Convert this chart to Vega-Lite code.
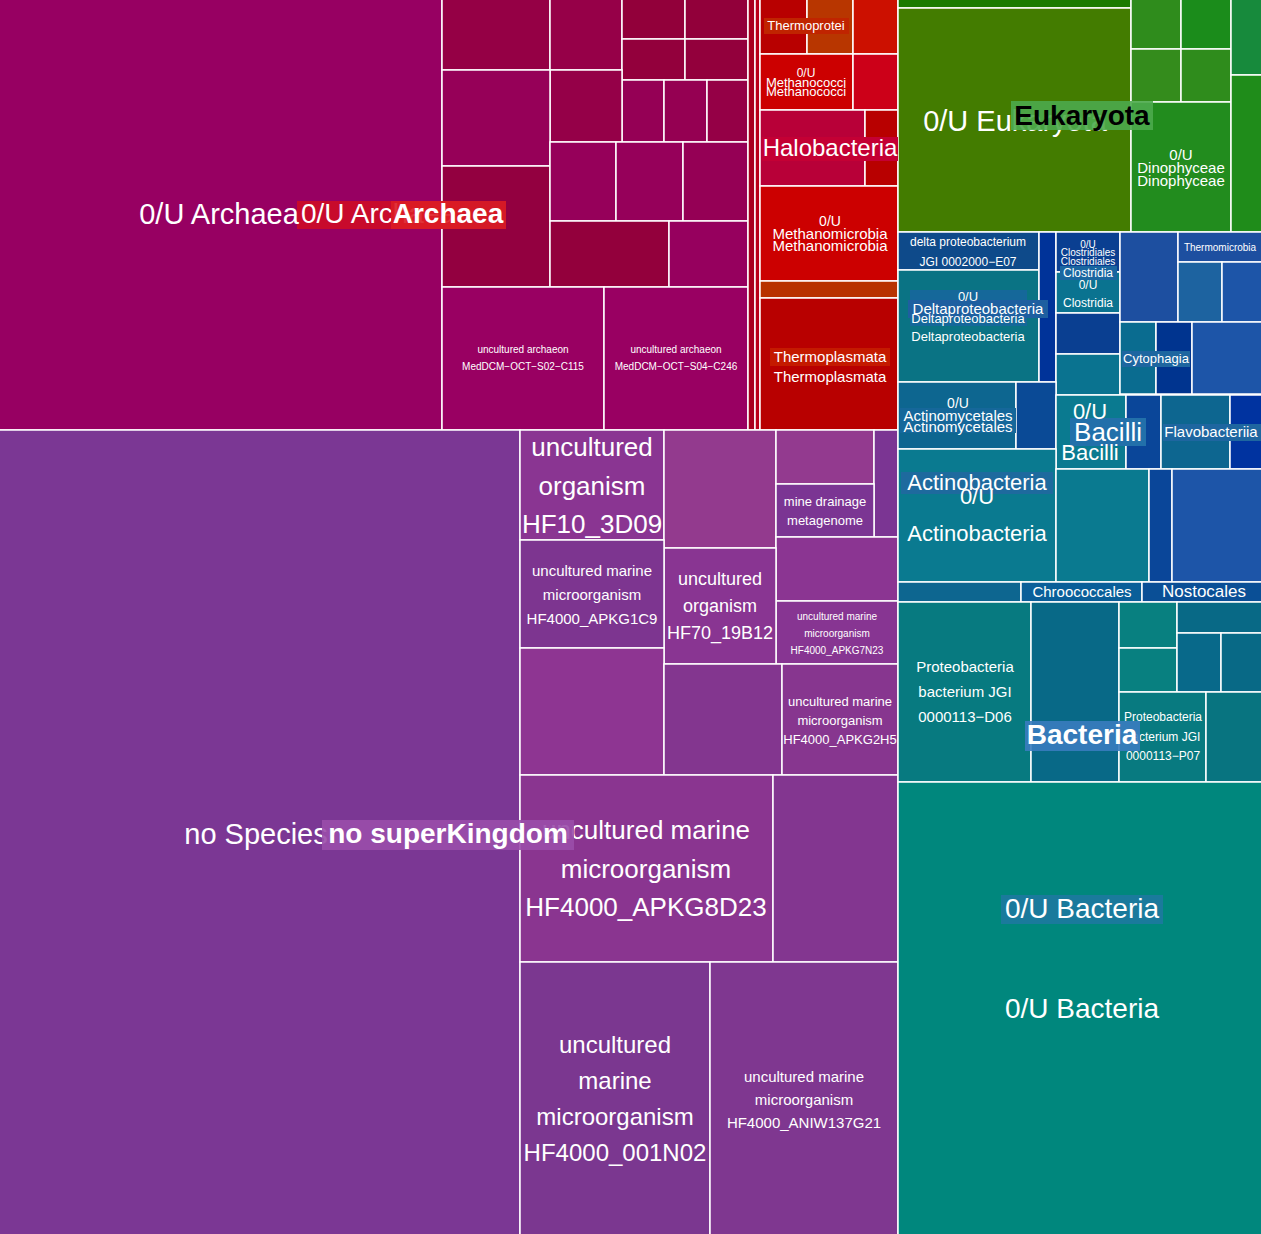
{
  "$schema": "https://vega.github.io/schema/vega-lite/v6.json",
  "width": 1261,
  "height": 1234,
  "autosize": {"type": "fit", "contains": "padding"},
  "padding": 0,
  "background": "#ffffff",
  "config": {"view": {"stroke": null}, "text": {"font": "Liberation Sans", "align": "center", "baseline": "middle", "color": "#ffffff"}},
  "encoding": {
    "x": {"field": "x", "type": "quantitative", "scale": {"domain": [0, 1261], "nice": false, "zero": false}, "axis": null},
    "y": {"field": "y", "type": "quantitative", "scale": {"domain": [0, 1234], "nice": false, "zero": false, "reverse": true}, "axis": null}
  },
  "datasets": {
    "rects": [
      {"id": "0/U Archaea", "x": -2, "x1": 442, "y": -2, "y1": 430},
      {"id": "Archaea a1", "x": 442, "x1": 550, "y": -2, "y1": 70},
      {"id": "Archaea a2", "x": 550, "x1": 622, "y": -2, "y1": 70},
      {"id": "Archaea a3", "x": 622, "x1": 685, "y": -2, "y1": 39},
      {"id": "Archaea a4", "x": 685, "x1": 748, "y": -2, "y1": 39},
      {"id": "Archaea a5", "x": 622, "x1": 685, "y": 39, "y1": 80},
      {"id": "Archaea a6", "x": 685, "x1": 748, "y": 39, "y1": 80},
      {"id": "Archaea a7", "x": 622, "x1": 664, "y": 80, "y1": 142},
      {"id": "Archaea a8", "x": 664, "x1": 707, "y": 80, "y1": 142},
      {"id": "Archaea a9", "x": 707, "x1": 748, "y": 80, "y1": 142},
      {"id": "Archaea a10", "x": 550, "x1": 622, "y": 70, "y1": 142},
      {"id": "Archaea a11", "x": 442, "x1": 550, "y": 70, "y1": 166},
      {"id": "Archaea a12", "x": 442, "x1": 550, "y": 166, "y1": 287},
      {"id": "Archaea a13", "x": 550, "x1": 616, "y": 142, "y1": 221},
      {"id": "Archaea a14", "x": 616, "x1": 683, "y": 142, "y1": 221},
      {"id": "Archaea a15", "x": 683, "x1": 748, "y": 142, "y1": 221},
      {"id": "Archaea a16", "x": 550, "x1": 669, "y": 221, "y1": 287},
      {"id": "Archaea a17", "x": 669, "x1": 748, "y": 221, "y1": 287},
      {"id": "MedDCM-OCT-S02-C115", "x": 442, "x1": 604, "y": 287, "y1": 430},
      {"id": "MedDCM-OCT-S04-C246", "x": 604, "x1": 748, "y": 287, "y1": 430},
      {"id": "Archaea s1", "x": 748, "x1": 755, "y": -2, "y1": 430},
      {"id": "Archaea s2", "x": 755, "x1": 760, "y": -2, "y1": 430},
      {"id": "Thermoprotei 1", "x": 760, "x1": 807, "y": -2, "y1": 54},
      {"id": "Thermoprotei 2", "x": 807, "x1": 853, "y": -2, "y1": 54},
      {"id": "Thermoprotei 3", "x": 853, "x1": 898, "y": -2, "y1": 54},
      {"id": "Methanococci 1", "x": 760, "x1": 853, "y": 54, "y1": 110},
      {"id": "Methanococci 2", "x": 853, "x1": 898, "y": 54, "y1": 110},
      {"id": "Halobacteria 1", "x": 760, "x1": 865, "y": 110, "y1": 186},
      {"id": "Halobacteria 2", "x": 865, "x1": 898, "y": 110, "y1": 186},
      {"id": "Methanomicrobia", "x": 760, "x1": 898, "y": 186, "y1": 281},
      {"id": "Archaea s3", "x": 760, "x1": 898, "y": 281, "y1": 298},
      {"id": "Thermoplasmata", "x": 760, "x1": 898, "y": 298, "y1": 430},
      {"id": "no Species", "x": -2, "x1": 520, "y": 430, "y1": 1236},
      {"id": "HF10_3D09", "x": 520, "x1": 664, "y": 430, "y1": 540},
      {"id": "nsk n1", "x": 664, "x1": 776, "y": 430, "y1": 548},
      {"id": "nsk n2", "x": 776, "x1": 874, "y": 430, "y1": 484},
      {"id": "nsk n3", "x": 874, "x1": 898, "y": 430, "y1": 537},
      {"id": "mine drainage metagenome", "x": 776, "x1": 874, "y": 484, "y1": 537},
      {"id": "nsk n4", "x": 776, "x1": 898, "y": 537, "y1": 601},
      {"id": "HF4000_APKG7N23", "x": 776, "x1": 898, "y": 601, "y1": 664},
      {"id": "HF70_19B12", "x": 664, "x1": 776, "y": 548, "y1": 664},
      {"id": "HF4000_APKG1C9", "x": 520, "x1": 664, "y": 540, "y1": 648},
      {"id": "nsk n5", "x": 520, "x1": 664, "y": 648, "y1": 775},
      {"id": "nsk n6", "x": 664, "x1": 782, "y": 664, "y1": 775},
      {"id": "HF4000_APKG2H5", "x": 782, "x1": 898, "y": 664, "y1": 775},
      {"id": "HF4000_APKG8D23", "x": 520, "x1": 773, "y": 775, "y1": 962},
      {"id": "nsk n7", "x": 773, "x1": 898, "y": 775, "y1": 962},
      {"id": "HF4000_001N02", "x": 520, "x1": 710, "y": 962, "y1": 1236},
      {"id": "HF4000_ANIW137G21", "x": 710, "x1": 898, "y": 962, "y1": 1236},
      {"id": "Euk e0", "x": 898, "x1": 1131, "y": -2, "y1": 8},
      {"id": "0/U Eukaryota", "x": 898, "x1": 1131, "y": 8, "y1": 232},
      {"id": "Euk e1", "x": 1131, "x1": 1181, "y": -2, "y1": 49},
      {"id": "Euk e2", "x": 1181, "x1": 1231, "y": -2, "y1": 49},
      {"id": "Euk e3", "x": 1131, "x1": 1181, "y": 49, "y1": 102},
      {"id": "Euk e4", "x": 1181, "x1": 1231, "y": 49, "y1": 102},
      {"id": "Dinophyceae", "x": 1131, "x1": 1231, "y": 102, "y1": 232},
      {"id": "Euk e5", "x": 1231, "x1": 1263, "y": -2, "y1": 75},
      {"id": "Euk e6", "x": 1231, "x1": 1263, "y": 75, "y1": 232},
      {"id": "delta proteobacterium", "x": 898, "x1": 1039, "y": 232, "y1": 270},
      {"id": "Deltaproteobacteria", "x": 898, "x1": 1039, "y": 270, "y1": 382},
      {"id": "Bac b1", "x": 1039, "x1": 1056, "y": 232, "y1": 382},
      {"id": "Clostridiales", "x": 1056, "x1": 1120, "y": 232, "y1": 272},
      {"id": "Clostridia", "x": 1056, "x1": 1120, "y": 272, "y1": 313},
      {"id": "Bac b2", "x": 1056, "x1": 1120, "y": 313, "y1": 354},
      {"id": "Bac b3", "x": 1056, "x1": 1120, "y": 354, "y1": 395},
      {"id": "Bac b4", "x": 1120, "x1": 1178, "y": 232, "y1": 322},
      {"id": "Thermomicrobia", "x": 1178, "x1": 1263, "y": 232, "y1": 262},
      {"id": "Bac b5", "x": 1178, "x1": 1222, "y": 262, "y1": 322},
      {"id": "Bac b6", "x": 1222, "x1": 1263, "y": 262, "y1": 322},
      {"id": "Cytophagia", "x": 1120, "x1": 1156, "y": 322, "y1": 394},
      {"id": "Bac b7", "x": 1156, "x1": 1192, "y": 322, "y1": 394},
      {"id": "Bac b8", "x": 1192, "x1": 1263, "y": 322, "y1": 394},
      {"id": "Actinomycetales", "x": 898, "x1": 1016, "y": 382, "y1": 449},
      {"id": "Bac b9", "x": 1016, "x1": 1056, "y": 382, "y1": 449},
      {"id": "Bacilli", "x": 1056, "x1": 1126, "y": 395, "y1": 469},
      {"id": "Bac b10", "x": 1126, "x1": 1161, "y": 395, "y1": 469},
      {"id": "Flavobacteriia", "x": 1161, "x1": 1230, "y": 395, "y1": 469},
      {"id": "Bac b11", "x": 1230, "x1": 1263, "y": 395, "y1": 469},
      {"id": "Actinobacteria", "x": 898, "x1": 1056, "y": 449, "y1": 582},
      {"id": "Bac b12", "x": 1056, "x1": 1149, "y": 469, "y1": 582},
      {"id": "Bac b13", "x": 1149, "x1": 1172, "y": 469, "y1": 582},
      {"id": "Bac b14", "x": 1172, "x1": 1263, "y": 469, "y1": 582},
      {"id": "Bac b15", "x": 898, "x1": 1021, "y": 582, "y1": 602},
      {"id": "Chroococcales", "x": 1021, "x1": 1142, "y": 582, "y1": 602},
      {"id": "Nostocales", "x": 1142, "x1": 1263, "y": 582, "y1": 602},
      {"id": "JGI 0000113-D06", "x": 898, "x1": 1031, "y": 602, "y1": 782},
      {"id": "Bac b16", "x": 1031, "x1": 1119, "y": 602, "y1": 782},
      {"id": "Bac b17", "x": 1119, "x1": 1177, "y": 602, "y1": 648},
      {"id": "Bac b18", "x": 1119, "x1": 1177, "y": 648, "y1": 692},
      {"id": "Bac b19", "x": 1177, "x1": 1263, "y": 602, "y1": 633},
      {"id": "Bac b20", "x": 1177, "x1": 1221, "y": 633, "y1": 692},
      {"id": "Bac b21", "x": 1221, "x1": 1263, "y": 633, "y1": 692},
      {"id": "JGI 0000113-P07", "x": 1119, "x1": 1206, "y": 692, "y1": 782},
      {"id": "Bac b22", "x": 1206, "x1": 1263, "y": 692, "y1": 782},
      {"id": "0/U Bacteria", "x": 898, "x1": 1263, "y": 782, "y1": 1236}
    ],
    "boxes": [
      {"id": "0/U Archaea", "top": false, "x": 297, "x1": 460, "y": 201, "y1": 229},
      {"id": "Thermoprotei", "top": false, "x": 764, "x1": 849, "y": 18, "y1": 34},
      {"id": "Halobacteria", "top": false, "x": 762, "x1": 898, "y": 137, "y1": 161},
      {"id": "Thermoplasmata", "top": false, "x": 770, "x1": 890, "y": 348, "y1": 366},
      {"id": "0/U Deltaproteobacteria", "top": false, "x": 910, "x1": 1027, "y": 290, "y1": 326},
      {"id": "Deltaproteobacteria", "top": false, "x": 908, "x1": 1048, "y": 300, "y1": 318},
      {"id": "Clostridia", "top": false, "x": 1060, "x1": 1117, "y": 266, "y1": 280},
      {"id": "Cytophagia", "top": false, "x": 1122, "x1": 1190, "y": 351, "y1": 367},
      {"id": "Actinomycetales", "top": false, "x": 900, "x1": 1016, "y": 408, "y1": 433},
      {"id": "Bacilli", "top": false, "x": 1070, "x1": 1146, "y": 418, "y1": 446},
      {"id": "Flavobacteriia", "top": false, "x": 1163, "x1": 1261, "y": 424, "y1": 441},
      {"id": "Actinobacteria", "top": false, "x": 901, "x1": 1053, "y": 472, "y1": 494},
      {"id": "0/U Bacteria", "top": false, "x": 1001, "x1": 1163, "y": 895, "y1": 924},
      {"id": "Archaea", "top": true, "x": 391, "x1": 506, "y": 201, "y1": 229},
      {"id": "no superKingdom", "top": true, "x": 322, "x1": 574, "y": 820, "y1": 850},
      {"id": "Eukaryota", "top": true, "x": 1011, "x1": 1153, "y": 101, "y1": 130},
      {"id": "Bacteria", "top": true, "x": 1025, "x1": 1140, "y": 721, "y1": 751}
    ],
    "labels": [
      {"label": "0/U Archaea", "x": 219, "y": 215, "tier": "t29", "bold": false},
      {"label": "0/U Archaea", "x": 378, "y": 215, "tier": "t28", "bold": false},
      {"label": "Archaea", "x": 448, "y": 215, "tier": "t28", "bold": true},
      {"label": "uncultured archaeon", "x": 523, "y": 350, "tier": "t10", "bold": false},
      {"label": "MedDCM−OCT−S02−C115", "x": 523, "y": 367, "tier": "t10", "bold": false},
      {"label": "uncultured archaeon", "x": 676, "y": 350, "tier": "t10", "bold": false},
      {"label": "MedDCM−OCT−S04−C246", "x": 676, "y": 367, "tier": "t10", "bold": false},
      {"label": "Thermoprotei", "x": 806, "y": 26, "tier": "t13", "bold": false},
      {"label": "0/U", "x": 806, "y": 73, "tier": "t12", "bold": false},
      {"label": "Methanococci", "x": 806, "y": 83, "tier": "t13", "bold": false},
      {"label": "Methanococci", "x": 806, "y": 92, "tier": "t13", "bold": false},
      {"label": "Halobacteria", "x": 830, "y": 149, "tier": "t24", "bold": false},
      {"label": "0/U", "x": 830, "y": 222, "tier": "t14", "bold": false},
      {"label": "Methanomicrobia", "x": 830, "y": 234, "tier": "t15", "bold": false},
      {"label": "Methanomicrobia", "x": 830, "y": 246, "tier": "t15", "bold": false},
      {"label": "Thermoplasmata", "x": 830, "y": 357, "tier": "t15", "bold": false},
      {"label": "Thermoplasmata", "x": 830, "y": 377, "tier": "t15", "bold": false},
      {"label": "no Species", "x": 256, "y": 835, "tier": "t29", "bold": false},
      {"label": "no superKingdom", "x": 448, "y": 835, "tier": "t28", "bold": true},
      {"label": "uncultured", "x": 592, "y": 448, "tier": "t26", "bold": false},
      {"label": "organism", "x": 592, "y": 487, "tier": "t26", "bold": false},
      {"label": "HF10_3D09", "x": 592, "y": 525, "tier": "t26", "bold": false},
      {"label": "mine drainage", "x": 825, "y": 502, "tier": "t13", "bold": false},
      {"label": "metagenome", "x": 825, "y": 521, "tier": "t13", "bold": false},
      {"label": "uncultured marine", "x": 592, "y": 571, "tier": "t15", "bold": false},
      {"label": "microorganism", "x": 592, "y": 595, "tier": "t15", "bold": false},
      {"label": "HF4000_APKG1C9", "x": 592, "y": 619, "tier": "t15", "bold": false},
      {"label": "uncultured", "x": 720, "y": 580, "tier": "t18", "bold": false},
      {"label": "organism", "x": 720, "y": 607, "tier": "t18", "bold": false},
      {"label": "HF70_19B12", "x": 720, "y": 634, "tier": "t18", "bold": false},
      {"label": "uncultured marine", "x": 837, "y": 617, "tier": "t10", "bold": false},
      {"label": "microorganism", "x": 837, "y": 634, "tier": "t10", "bold": false},
      {"label": "HF4000_APKG7N23", "x": 837, "y": 651, "tier": "t10", "bold": false},
      {"label": "uncultured marine", "x": 840, "y": 702, "tier": "t13", "bold": false},
      {"label": "microorganism", "x": 840, "y": 721, "tier": "t13", "bold": false},
      {"label": "HF4000_APKG2H5", "x": 840, "y": 740, "tier": "t13", "bold": false},
      {"label": "uncultured marine", "x": 646, "y": 831, "tier": "t26", "bold": false},
      {"label": "microorganism", "x": 646, "y": 870, "tier": "t26", "bold": false},
      {"label": "HF4000_APKG8D23", "x": 646, "y": 908, "tier": "t26", "bold": false},
      {"label": "uncultured", "x": 615, "y": 1046, "tier": "t24", "bold": false},
      {"label": "marine", "x": 615, "y": 1082, "tier": "t24", "bold": false},
      {"label": "microorganism", "x": 615, "y": 1118, "tier": "t24", "bold": false},
      {"label": "HF4000_001N02", "x": 615, "y": 1154, "tier": "t24", "bold": false},
      {"label": "uncultured marine", "x": 804, "y": 1077, "tier": "t15", "bold": false},
      {"label": "microorganism", "x": 804, "y": 1100, "tier": "t15", "bold": false},
      {"label": "HF4000_ANIW137G21", "x": 804, "y": 1123, "tier": "t15", "bold": false},
      {"label": "0/U Eukaryota", "x": 1015, "y": 122, "tier": "t29", "bold": false},
      {"label": "Eukaryota", "x": 1082, "y": 117, "tier": "t28", "bold": true},
      {"label": "0/U", "x": 1181, "y": 155, "tier": "t15", "bold": false},
      {"label": "Dinophyceae", "x": 1181, "y": 168, "tier": "t15", "bold": false},
      {"label": "Dinophyceae", "x": 1181, "y": 181, "tier": "t15", "bold": false},
      {"label": "delta proteobacterium", "x": 968, "y": 242, "tier": "t12", "bold": false},
      {"label": "JGI 0002000−E07", "x": 968, "y": 262, "tier": "t12", "bold": false},
      {"label": "0/U", "x": 968, "y": 297, "tier": "t13", "bold": false},
      {"label": "Deltaproteobacteria", "x": 968, "y": 319, "tier": "t13", "bold": false},
      {"label": "Deltaproteobacteria", "x": 978, "y": 309, "tier": "t15", "bold": false},
      {"label": "Deltaproteobacteria", "x": 968, "y": 337, "tier": "t13", "bold": false},
      {"label": "0/U", "x": 1088, "y": 245, "tier": "t10", "bold": false},
      {"label": "Clostridiales", "x": 1088, "y": 253, "tier": "t10", "bold": false},
      {"label": "Clostridiales", "x": 1088, "y": 262, "tier": "t10", "bold": false},
      {"label": "Clostridia", "x": 1088, "y": 273, "tier": "t12", "bold": false},
      {"label": "0/U", "x": 1088, "y": 285, "tier": "t12", "bold": false},
      {"label": "Clostridia", "x": 1088, "y": 303, "tier": "t12", "bold": false},
      {"label": "Thermomicrobia", "x": 1220, "y": 248, "tier": "t10", "bold": false},
      {"label": "Cytophagia", "x": 1156, "y": 359, "tier": "t13", "bold": false},
      {"label": "0/U", "x": 958, "y": 404, "tier": "t14", "bold": false},
      {"label": "Actinomycetales", "x": 958, "y": 416, "tier": "t15", "bold": false},
      {"label": "Actinomycetales", "x": 958, "y": 427, "tier": "t15", "bold": false},
      {"label": "0/U", "x": 1090, "y": 412, "tier": "t22", "bold": false},
      {"label": "Bacilli", "x": 1090, "y": 453, "tier": "t22", "bold": false},
      {"label": "Bacilli", "x": 1108, "y": 433, "tier": "t26", "bold": false},
      {"label": "Flavobacteriia", "x": 1211, "y": 432, "tier": "t15", "bold": false},
      {"label": "0/U", "x": 977, "y": 497, "tier": "t22", "bold": false},
      {"label": "Actinobacteria", "x": 977, "y": 483, "tier": "t22", "bold": false},
      {"label": "Actinobacteria", "x": 977, "y": 534, "tier": "t22", "bold": false},
      {"label": "Chroococcales", "x": 1082, "y": 592, "tier": "t15", "bold": false},
      {"label": "Nostocales", "x": 1204, "y": 592, "tier": "t17", "bold": false},
      {"label": "Proteobacteria", "x": 965, "y": 667, "tier": "t15", "bold": false},
      {"label": "bacterium JGI", "x": 965, "y": 692, "tier": "t15", "bold": false},
      {"label": "0000113−D06", "x": 965, "y": 717, "tier": "t15", "bold": false},
      {"label": "Proteobacteria", "x": 1163, "y": 717, "tier": "t12", "bold": false},
      {"label": "bacterium JGI", "x": 1163, "y": 737, "tier": "t12", "bold": false},
      {"label": "0000113−P07", "x": 1163, "y": 756, "tier": "t12", "bold": false},
      {"label": "Bacteria", "x": 1082, "y": 736, "tier": "t28", "bold": true},
      {"label": "0/U Bacteria", "x": 1082, "y": 910, "tier": "t28", "bold": false},
      {"label": "0/U Bacteria", "x": 1082, "y": 1010, "tier": "t28", "bold": false}
    ]
  },
  "layer": [
    {
      "data": {"name": "rects"},
      "mark": {"type": "rect", "stroke": "#ffffff", "strokeWidth": 1.5, "clip": true},
      "encoding": {
        "x2": {"field": "x1"},
        "y2": {"field": "y1"},
        "color": {
          "field": "id", "type": "nominal", "legend": null,
          "scale": {
            "domain": ["0/U Archaea","Archaea a1","Archaea a2","Archaea a3","Archaea a4","Archaea a5","Archaea a6","Archaea a7","Archaea a8","Archaea a9","Archaea a10","Archaea a11","Archaea a12","Archaea a13","Archaea a14","Archaea a15","Archaea a16","Archaea a17","MedDCM-OCT-S02-C115","MedDCM-OCT-S04-C246","Archaea s1","Archaea s2","Thermoprotei 1","Thermoprotei 2","Thermoprotei 3","Methanococci 1","Methanococci 2","Halobacteria 1","Halobacteria 2","Methanomicrobia","Archaea s3","Thermoplasmata",
              "no Species","HF10_3D09","nsk n1","nsk n2","nsk n3","mine drainage metagenome","nsk n4","HF4000_APKG7N23","HF70_19B12","HF4000_APKG1C9","nsk n5","nsk n6","HF4000_APKG2H5","HF4000_APKG8D23","nsk n7","HF4000_001N02","HF4000_ANIW137G21",
              "Euk e0","0/U Eukaryota","Euk e1","Euk e2","Euk e3","Euk e4","Dinophyceae","Euk e5","Euk e6",
              "delta proteobacterium","Deltaproteobacteria","Bac b1","Clostridiales","Clostridia","Bac b2","Bac b3","Bac b4","Thermomicrobia","Bac b5","Bac b6","Cytophagia","Bac b7","Bac b8","Actinomycetales","Bac b9","Bacilli","Bac b10","Flavobacteriia","Bac b11","Actinobacteria","Bac b12","Bac b13","Bac b14","Bac b15","Chroococcales","Nostocales","JGI 0000113-D06","Bac b16","Bac b17","Bac b18","Bac b19","Bac b20","Bac b21","JGI 0000113-P07","Bac b22","0/U Bacteria"],
            "range": ["#970062","#950045","#960048","#92003a","#92003a","#93003c","#93003c","#950055","#950052","#950046","#950048","#960058","#930040","#96005a","#96005a","#950055","#93003c","#96005e","#990062","#990062","#a8001e","#ba0018","#b80000","#b83600","#cc1000","#cc0000","#cc0018","#b80038","#b80000","#cc0000","#b83200","#b80000",
              "#7b3794","#8a3592","#933a8e","#933a8f","#7b3593","#7b3593","#8b3592","#873592","#893592","#7d3590","#8e3592","#83368f","#87368f","#8a3590","#833690","#7b3790","#7f3790",
              "#1a7a00","#437c00","#2f8c1c","#1b8c1b","#348c1c","#2f8c1c","#228c1e","#178a3c","#1f8c1a",
              "#0e4a8a","#0a7384","#003399","#0a3f91","#0a7390","#0a3f91","#0a7390","#1d4fa0","#1d4fa0","#1d63a0","#1d55a8","#0a6c90","#00348f","#1d55a8","#0d6690","#0a4a96","#0a7a90","#0a4699","#0d6690","#0033a0","#0a7a90","#0a7a90","#0a4699","#1d55a8","#0d6690","#0a5f99","#0a4f96","#077a80","#086987","#088080","#088080","#086986","#08698a","#086986","#087a80","#087480","#00877d"]
          }
        }
      }
    },
    {
      "data": {"name": "boxes"},
      "transform": [{"filter": "!datum.top"}],
      "mark": {"type": "rect"},
      "encoding": {
        "x2": {"field": "x1"},
        "y2": {"field": "y1"},
        "color": {
          "field": "id", "type": "nominal", "legend": null,
          "scale": {
            "domain": ["0/U Archaea","Thermoprotei","Halobacteria","Thermoplasmata","0/U Deltaproteobacteria","Deltaproteobacteria","Clostridia","Cytophagia","Actinomycetales","Bacilli","Flavobacteriia","Actinobacteria","0/U Bacteria"],
            "range": ["#c80a2c","#c02400","#c40034","#c41a00","#15689a","#1e5fa0","#1a66a0","#1e66a0","#15679a","#2270aa","#1e66a0","#1e6a9e","#1a7a9c"]
          }
        }
      }
    },
    {"data": {"name": "labels"}, "transform": [{"filter": "!datum.bold && datum.tier === 't10'"}], "mark": {"type": "text", "fontSize": 10}, "encoding": {"text": {"field": "label"}}},
    {"data": {"name": "labels"}, "transform": [{"filter": "!datum.bold && datum.tier === 't12'"}], "mark": {"type": "text", "fontSize": 12}, "encoding": {"text": {"field": "label"}}},
    {"data": {"name": "labels"}, "transform": [{"filter": "!datum.bold && datum.tier === 't13'"}], "mark": {"type": "text", "fontSize": 13}, "encoding": {"text": {"field": "label"}}},
    {"data": {"name": "labels"}, "transform": [{"filter": "!datum.bold && datum.tier === 't14'"}], "mark": {"type": "text", "fontSize": 14}, "encoding": {"text": {"field": "label"}}},
    {"data": {"name": "labels"}, "transform": [{"filter": "!datum.bold && datum.tier === 't15'"}], "mark": {"type": "text", "fontSize": 15}, "encoding": {"text": {"field": "label"}}},
    {"data": {"name": "labels"}, "transform": [{"filter": "!datum.bold && datum.tier === 't17'"}], "mark": {"type": "text", "fontSize": 17}, "encoding": {"text": {"field": "label"}}},
    {"data": {"name": "labels"}, "transform": [{"filter": "!datum.bold && datum.tier === 't18'"}], "mark": {"type": "text", "fontSize": 18}, "encoding": {"text": {"field": "label"}}},
    {"data": {"name": "labels"}, "transform": [{"filter": "!datum.bold && datum.tier === 't22'"}], "mark": {"type": "text", "fontSize": 22}, "encoding": {"text": {"field": "label"}}},
    {"data": {"name": "labels"}, "transform": [{"filter": "!datum.bold && datum.tier === 't24'"}], "mark": {"type": "text", "fontSize": 24}, "encoding": {"text": {"field": "label"}}},
    {"data": {"name": "labels"}, "transform": [{"filter": "!datum.bold && datum.tier === 't26'"}], "mark": {"type": "text", "fontSize": 26}, "encoding": {"text": {"field": "label"}}},
    {"data": {"name": "labels"}, "transform": [{"filter": "!datum.bold && datum.tier === 't28'"}], "mark": {"type": "text", "fontSize": 28}, "encoding": {"text": {"field": "label"}}},
    {"data": {"name": "labels"}, "transform": [{"filter": "!datum.bold && datum.tier === 't29'"}], "mark": {"type": "text", "fontSize": 29}, "encoding": {"text": {"field": "label"}}},
    {
      "data": {"name": "boxes"},
      "transform": [{"filter": "datum.top"}],
      "mark": {"type": "rect", "opacity": 0.9},
      "encoding": {
        "x2": {"field": "x1"},
        "y2": {"field": "y1"},
        "color": {
          "field": "id", "type": "nominal", "legend": null,
          "scale": {"domain": ["Archaea","no superKingdom","Eukaryota","Bacteria"], "range": ["#dc1c24","#9a4eaa","#4daa4d","#3a7cbf"]}
        }
      }
    },
    {
      "data": {"name": "labels"},
      "transform": [{"filter": "datum.bold"}],
      "mark": {"type": "text", "fontWeight": "bold", "fontSize": 28},
      "encoding": {
        "text": {"field": "label"},
        "color": {"condition": {"test": "datum.label === 'Eukaryota'", "value": "#000000"}, "value": "#ffffff"}
      }
    }
  ],
  "resolve": {"scale": {"color": "independent"}}
}
